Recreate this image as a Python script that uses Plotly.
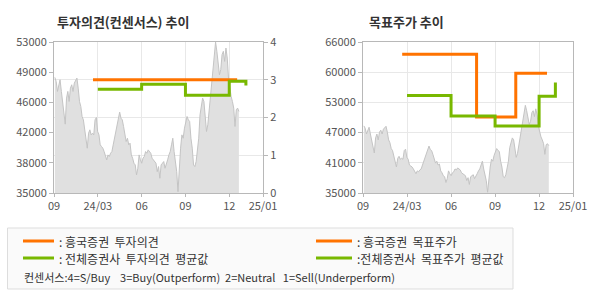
import numpy as np
import plotly.graph_objects as go

# ---------------- data ----------------
x_tick_labels = ["09", "24/03", "06", "09", "12", "25/01"]
x_tick_pos = [0, 1, 2, 3, 4, 4.77]

# daily close (index 0 .. ~4.22 on the month-tick scale)
price = [
    48780, 48300, 47110, 47900, 48500, 47110, 45520, 43920, 43210, 46310, 47110, 45910, 47500, 47900,
    47110, 48100, 48500, 48700, 47500, 45910, 45320, 44120, 43720, 42730, 41530, 40340, 42130, 42530,
    41930, 42130, 41930, 43720, 44000,
    42330, 41930, 40740, 40540, 40340, 39940, 39350, 38950, 39540, 39350, 39740, 39940, 40740, 41530,
    42530, 43330, 43920, 44640, 43920, 43720, 42930, 41930, 41140, 41530, 40740, 40940, 39540, 39150,
    38550, 38350, 37160, 37950, 39540, 38950, 38550, 39150,
    39350, 39940, 39740, 40140, 39940, 39740, 39150, 38950, 38750, 38550, 37550, 38150, 36760, 38350,
    38550, 38750, 37950, 38350, 38950, 39540, 39940, 40740, 41530, 39940, 38550, 37550, 35160, 38350,
    40340, 41930, 41530, 42730, 43520, 44120, 43720,
    43520, 41530, 40340, 38350, 38150, 38750, 39940, 41530, 44320, 45320, 46310, 45910, 43920, 42330,
    43130, 44720, 45910, 47500, 49100, 51490, 53000, 51890, 50290, 49100, 49700, 51490, 51890, 50690,
    52280, 51090, 48700, 47500, 46510, 45910, 45120, 42930, 44920, 45120, 44720,
]
price_x = list(np.linspace(0.02, 4.22, len(price)))

# investment opinion (1..4)
hk_op_x = [0.89, 4.18]
hk_op_y = [3.0, 3.0]
avg_op_x = [1.0, 2.0, 3.0, 4.0, 4.38]
avg_op_y = [2.75, 2.88, 2.59, 2.96, 2.85]

# target price
hk_tp_x = [0.89, 2.58, 3.47, 4.18]
hk_tp_y = [63500, 50600, 59600, 59600]
avg_tp_x = [1.0, 2.0, 3.0, 4.0, 4.37]
avg_tp_y = [55000, 50800, 48750, 54850, 57700]

left_labels = ["35000", "38000", "42000", "46000", "49000", "53000"]
right_labels = ["35000", "41000", "47000", "53000", "60000", "66000"]

ORANGE = "#ff7300"
GREEN = "#78b800"
FILL = "#e0e0e0"
PLINE = "#c4c4c4"
GRID = "#e8e8e8"
AX = "#b8b8b8"
TXT = "#555555"
FONT = "Noto Sans CJK KR"

fig = go.Figure()

# left chart
fig.add_trace(go.Scatter(x=price_x, y=price, mode="lines", line=dict(color=PLINE, width=1),
                         fill="tozeroy", fillcolor=FILL, xaxis="x", yaxis="y", hoverinfo="skip"))
fig.add_trace(go.Scatter(x=hk_op_x, y=hk_op_y, mode="lines", line=dict(color=ORANGE, width=3, shape="hv"),
                         xaxis="x", yaxis="y2"))
fig.add_trace(go.Scatter(x=avg_op_x, y=avg_op_y, mode="lines", line=dict(color=GREEN, width=3, shape="hv"),
                         xaxis="x", yaxis="y2"))
# right chart
fig.add_trace(go.Scatter(x=price_x, y=price, mode="lines", line=dict(color=PLINE, width=1),
                         fill="tozeroy", fillcolor=FILL, xaxis="x3", yaxis="y3", hoverinfo="skip"))
fig.add_trace(go.Scatter(x=hk_tp_x, y=hk_tp_y, mode="lines", line=dict(color=ORANGE, width=3, shape="hv"),
                         xaxis="x3", yaxis="y3"))
fig.add_trace(go.Scatter(x=avg_tp_x, y=avg_tp_y, mode="lines", line=dict(color=GREEN, width=3, shape="hv"),
                         xaxis="x3", yaxis="y3"))

W, H = 590, 300
ydom = [1 - 193 / H, 1 - 42 / H]
tickfont = dict(family=FONT, size=11, color=TXT)

xcommon = dict(range=[0, 4.77], tickmode="array", tickvals=x_tick_pos, ticktext=x_tick_labels,
               showgrid=True, gridcolor=GRID, gridwidth=1, showline=True, linecolor=AX, mirror=True,
               ticks="outside", ticklen=3, tickcolor=AX, tickfont=tickfont, zeroline=False,
               automargin=False)

lvals = list(np.linspace(35000, 53000, 6))
rvals = list(np.linspace(35000, 66000, 6))

fig.update_layout(
    width=W, height=H, margin=dict(l=0, r=0, t=0, b=0, pad=0, autoexpand=False),
    paper_bgcolor="white", plot_bgcolor="white", showlegend=False,
    xaxis=dict(domain=[54 / W, 263 / W], anchor="y", **xcommon),
    yaxis=dict(domain=ydom, range=[35000, 53000], tickmode="array", tickvals=lvals, ticktext=left_labels,
               showgrid=False, showline=True, linecolor=AX, mirror=True, ticks="outside", ticklen=4,
               tickcolor=AX, tickfont=tickfont, zeroline=False, anchor="x", automargin=False),
    yaxis2=dict(range=[0, 4], overlaying="y", side="right", anchor="x", tickvals=[0, 1, 2, 3, 4],
                showgrid=True, gridcolor=GRID, ticks="outside", ticklen=4, tickcolor=AX,
                tickfont=tickfont, zeroline=False, showline=False, automargin=False),
    xaxis3=dict(domain=[363 / W, 573 / W], anchor="y3", **xcommon),
    yaxis3=dict(domain=ydom, range=[35000, 66000], tickmode="array", tickvals=rvals, ticktext=right_labels,
                showgrid=True, gridcolor=GRID, showline=True, linecolor=AX, mirror=True, ticks="outside",
                ticklen=4, tickcolor=AX, tickfont=tickfont, zeroline=False, anchor="x3", automargin=False),
)

# titles
fig.add_annotation(x=55 / W, y=1 - 21 / H, xref="paper", yref="paper", xanchor="left", yanchor="middle",
                   text="<b>투자의견(컨센서스) 추이</b>", showarrow=False,
                   font=dict(family=FONT, size=13, color="#333333"))
fig.add_annotation(x=367 / W, y=1 - 21 / H, xref="paper", yref="paper", xanchor="left", yanchor="middle",
                   text="<b>목표주가 추이</b>", showarrow=False,
                   font=dict(family=FONT, size=13, color="#333333"))

# legend box
fig.add_shape(type="rect", xref="paper", yref="paper", x0=7.5 / W, x1=513 / W, y0=1 - 289 / H, y1=1 - 228 / H,
              line=dict(color="#dddddd", width=1), fillcolor="#fafafa", layer="below")
leg = [
    (23, 54, 241, ORANGE, ": 흥국증권  투자의견"),
    (23, 54, 258, GREEN, ": 전체증권사  투자의견  평균값"),
    (316, 352, 241, ORANGE, ": 흥국증권  목표주가"),
    (316, 352, 258, GREEN, ":전체증권사  목표주가  평균값"),
]
lfont = dict(family=FONT, size=12, color="#333333")
for x0, x1, yy, c, t in leg:
    fig.add_shape(type="line", xref="paper", yref="paper", x0=x0 / W, x1=x1 / W, y0=1 - yy / H, y1=1 - yy / H,
                  line=dict(color=c, width=3))
    fig.add_annotation(x=(x1 + 3) / W, y=1 - yy / H, xref="paper", yref="paper", xanchor="left",
                       yanchor="middle", text=t, showarrow=False, font=lfont)
fig.add_annotation(x=22 / W, y=1 - 277 / H, xref="paper", yref="paper", xanchor="left", yanchor="middle",
                   text="컨센서스:4=S/Buy&nbsp;&nbsp;&nbsp;&nbsp;3=Buy(Outperform)&nbsp;&nbsp;2=Neutral&nbsp;&nbsp;&nbsp;1=Sell(Underperform)",
                   showarrow=False, font=dict(family=FONT, size=11, color="#333333"))

fig.write_html("out.html")
